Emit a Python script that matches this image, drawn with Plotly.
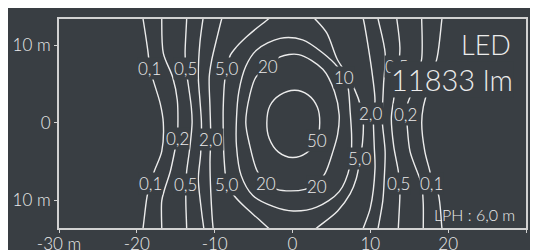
import plotly.graph_objects as go

# ---------------- data (metres) ----------------
BG = "#393e43"
LINE = "#ececec"
FRAME = "#d2d2d2"

x_tick_vals = [-30, -20, -10, 0, 10, 20, 30]
x_tick_text = ["-30 m", "-20", "-10", "0", "10", "20", "30 m"]
y_tick_vals = [-10, 0, 10]
y_tick_text = ["10 m", "0", "10 m"]

iso_50 = [(0.3, 4.2), (2.0, 3.6), (3.2, 2.0), (3.5, 0.0), (3.1, -2.3), (1.8, -3.9), (0.0, -4.5),
          (-1.8, -3.8), (-3.0, -2.0), (-3.3, 0.0), (-2.9, 2.2), (-1.6, 3.6), (0.3, 4.2)]
iso_20 = [(-3.1, 7.2), (-1.6, 8.5), (0.8, 8.8), (3.9, 6.9), (5.4, 4.0), (6.0, 1.0), (5.8, -1.5),
          (5.2, -3.7), (4.2, -6.5), (3.1, -7.9), (1.6, -8.6), (-0.3, -8.8), (-2.0, -8.6),
          (-3.4, -7.8), (-4.6, -6.1), (-5.5, -2.9), (-6.0, 0.0), (-5.5, 3.5), (-4.7, 5.9), (-3.1, 7.2)]
iso_10 = [(-4.6, 9.4), (-1.6, 10.9), (1.3, 10.7), (3.9, 9.0), (5.8, 7.2), (6.6, 5.9), (7.1, 4.8),
          (7.4, 1.5), (7.6, -2.0), (7.4, -5.5), (6.0, -8.9), (3.1, -10.9), (0.1, -11.4),
          (-2.5, -10.8), (-5.1, -9.4), (-6.6, -6.8), (-7.2, -3.0), (-7.2, 0.5), (-6.9, 4.0),
          (-6.0, 7.3), (-4.6, 9.4)]
iso_5_left = [(-2.5, 14.0), (-3.1, 13.4), (-4.5, 12.3), (-5.9, 11.1), (-7.2, 9.8), (-8.0, 8.7),
              (-8.4, 7.0), (-8.7, 5.5), (-8.9, 2.0), (-8.9, -1.0), (-8.8, -4.5), (-8.4, -8.0),
              (-7.6, -9.3), (-6.0, -11.0), (-4.3, -12.5), (-3.1, -13.6), (-2.4, -14.2)]
iso_5_right = [(2.3, 14.0), (2.9, 13.4), (4.4, 11.6), (5.7, 8.3), (6.8, 6.5), (7.9, 4.5),
               (8.8, 2.0), (9.1, 0.0), (9.0, -2.5), (8.7, -4.6), (8.2, -7.2), (7.4, -9.2),
               (5.8, -11.4), (3.1, -13.6), (2.4, -14.2)]
iso_2_left = [(-8.9, 14.0), (-9.1, 13.4), (-9.7, 11.0), (-10.4, 8.0), (-10.7, 5.9), (-10.6, 2.0),
              (-10.5, -2.1), (-10.6, -5.0), (-10.5, -9.0), (-10.2, -13.6), (-10.1, -14.2)]
iso_2_right = [(8.9, 14.0), (9.1, 13.4), (9.7, 10.0), (10.3, 5.9), (10.6, 2.9), (10.4, 0.6),
               (10.5, -3.0), (10.6, -5.9), (10.0, -11.0), (9.1, -13.6), (8.9, -14.2)]
iso_1_left = [(-11.4, 14.0), (-11.5, 13.4), (-11.9, 10.3), (-12.1, 5.9), (-11.9, 3.0), (-11.7, 0.0),
              (-11.8, -4.0), (-12.1, -7.2), (-11.8, -10.5), (-11.4, -13.6), (-11.3, -14.2)]
iso_1_right = [(10.9, 14.0), (11.0, 13.4), (11.9, 9.0), (11.7, 5.0), (11.6, 2.9), (11.5, 0.6),
               (11.9, -3.7), (11.8, -7.0), (11.6, -10.1), (11.0, -13.6), (10.9, -14.2)]
iso_05_left = [(-13.6, 14.0), (-13.6, 13.4), (-13.8, 9.0), (-13.7, 7.0), (-13.4, 5.0), (-13.0, 2.0),
               (-12.9, 0.0), (-13.2, -3.3), (-13.6, -6.3), (-13.7, -8.0), (-13.7, -10.5),
               (-13.6, -13.6), (-13.6, -14.2)]
iso_05_right = [(13.3, 14.0), (13.4, 13.4), (13.8, 9.7), (13.6, 7.0), (13.0, 3.0), (12.7, 0.6),
                (13.0, -3.0), (13.6, -6.3), (13.7, -7.8), (13.8, -9.1), (13.6, -13.6), (13.6, -14.2)]
iso_02_left = [(-16.8, 14.0), (-16.8, 13.4), (-16.6, 9.0), (-15.4, 5.9), (-14.8, 2.9), (-14.8, -2.0),
               (-15.0, -3.0), (-15.7, -6.3), (-16.4, -8.5), (-16.8, -10.1), (-16.8, -13.6),
               (-16.8, -14.2)]
iso_02_right = [(16.6, 14.0), (16.6, 13.4), (16.6, 8.3), (15.8, 5.0), (14.8, 2.5), (14.6, 1.0),
                (14.7, 0.0), (15.1, -3.7), (16.2, -6.8), (16.6, -8.0), (16.8, -10.5),
                (16.8, -13.6), (16.8, -14.2)]
iso_01_left = [(-19.3, 14.0), (-19.2, 13.4), (-18.6, 9.4), (-18.3, 7.0), (-17.9, 5.5), (-17.0, 2.5),
               (-16.6, 0.0), (-16.8, -3.7), (-17.7, -6.1), (-18.3, -7.9), (-18.7, -9.6),
               (-19.2, -13.6), (-19.3, -14.2)]
iso_01_right = [(19.3, 14.0), (19.2, 13.4), (18.6, 8.5), (17.6, 5.0), (16.8, 2.0), (16.6, 0.0),
                (17.0, -3.7), (17.7, -6.5), (17.9, -7.8), (18.7, -9.1), (19.2, -13.6), (19.3, -14.2)]

label_text = ["0,1", "0,5", "5,0", "20", "10", "0,5",
              "0,2", "2,0", "50", "2,0", "0,2", "5,0",
              "0,1", "0,5", "5,0", "20", "20", "0,5", "0,1"]
label_x = [-18.4, -13.8, -8.4, -3.1, 6.6, 13.3,
           -14.8, -10.5, 3.1, 10.1, 14.5, 8.7,
           -18.3, -13.7, -8.4, -3.4, 3.1, 13.6, 17.9]
label_y = [7.0, 7.0, 7.0, 7.2, 5.9, 7.3,
           -2.0, -2.2, -2.3, 1.2, 1.1, -4.6,
           -7.9, -8.0, -8.0, -7.8, -8.3, -7.8, -7.8]

lamp_type = "LED"
lamp_flux = "11833 lm"
mount_height = "LPH : 6,0 m"

contours = [iso_50, iso_20, iso_10, iso_5_left, iso_5_right, iso_2_left, iso_2_right,
            iso_1_left, iso_1_right, iso_05_left, iso_05_right, iso_02_left, iso_02_right,
            iso_01_left, iso_01_right]

FONT = "Lato"
WT = 300

fig = go.Figure()
for c in contours:
    fig.add_trace(go.Scatter(
        x=[p[0] for p in c], y=[p[1] for p in c], mode="lines",
        line=dict(color=LINE, width=1.4, shape="spline", smoothing=0.9),
        hoverinfo="skip", showlegend=False))

annotations = []
for t, x, y in zip(label_text, label_x, label_y):
    annotations.append(dict(x=x, y=y, text=t, showarrow=False, bgcolor=BG, borderpad=0,
                            font=dict(family=FONT, size=17, color=LINE, weight=WT)))
annotations.append(dict(x=28.4, y=5.6, text=lamp_flux, showarrow=False, xanchor="right",
                        bgcolor=BG, borderpad=0,
                        font=dict(family=FONT, size=29, color=LINE, weight=WT)))
annotations.append(dict(x=28.3, y=10.1, text=lamp_type, showarrow=False, xanchor="right",
                        font=dict(family=FONT, size=27, color=LINE, weight=WT)))
annotations.append(dict(x=28.9, y=-11.8, text=mount_height, showarrow=False, xanchor="right",
                        font=dict(family=FONT, size=16, color=LINE, weight=WT)))

# page body margin (8 px) supplies the white strip; figure sized so the frame lands as in the reference
W, H = 530, 242
L, R, T, B = 51, 12, 11, 22

axis_common = dict(showgrid=False, zeroline=False, showline=True, mirror=True,
                   linecolor=FRAME, linewidth=2, ticks="outside", ticklen=3, tickcolor=FRAME,
                   automargin=False,
                   tickfont=dict(family=FONT, size=17, color=LINE, weight=WT))

fig.update_layout(
    width=W, height=H, margin=dict(l=L, r=R, t=T, b=B, autoexpand=False),
    paper_bgcolor=BG, plot_bgcolor=BG,
    annotations=annotations, showlegend=False,
    xaxis=dict(range=[-30, 30], tickvals=x_tick_vals, ticktext=x_tick_text,
               ticklabelstandoff=-3, **axis_common),
    yaxis=dict(range=[-13.6, 13.4], tickvals=y_tick_vals, ticktext=y_tick_text, **axis_common),
)

fig.write_html("out.html")
